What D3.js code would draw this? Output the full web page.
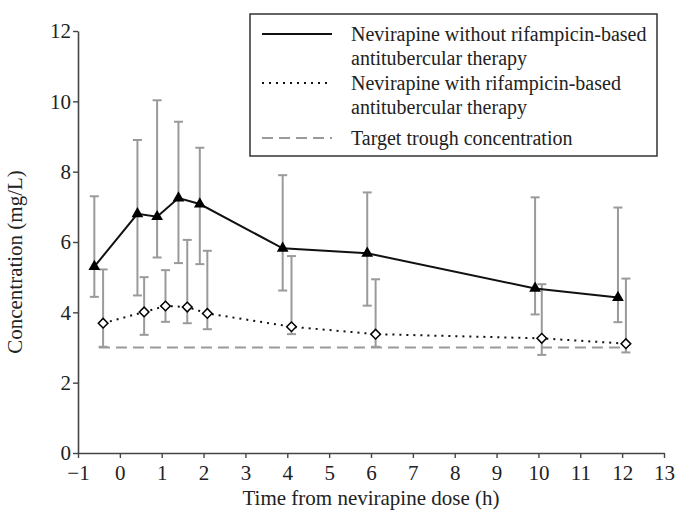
<!DOCTYPE html>
<html>
<head>
<meta charset="utf-8">
<script src="https://cdn.jsdelivr.net/npm/d3@7"></script>
<style>
  body { margin: 0; background: #fff; }
  svg { font-family: "Liberation Serif", "Times New Roman", serif; }
</style>
</head>
<body>
<div id="chart"></div>
<script>
// times (h) for each group
const timesWithout = [-0.61, 0.42, 0.89, 1.40, 1.91, 3.89, 5.91, 9.92, 11.90];
const meanWithout  = [5.30, 6.80, 6.72, 7.25, 7.08, 5.82, 5.68, 4.68, 4.42];
const lowWithout   = [4.44, 4.48, 5.56, 5.40, 5.37, 4.62, 4.19, 3.94, 3.72];
const highWithout  = [7.30, 8.90, 10.03, 9.42, 8.68, 7.90, 7.41, 7.27, 6.98];

const timesWith = [-0.40, 0.58, 1.09, 1.61, 2.09, 4.10, 6.11, 10.08, 12.09];
const meanWith  = [3.69, 4.01, 4.18, 4.15, 3.97, 3.59, 3.38, 3.26, 3.11];
const lowWith   = [3.02, 3.36, 3.73, 3.69, 3.52, 3.38, 3.02, 2.79, 2.86];
const highWith  = [5.22, 5.00, 5.20, 6.06, 5.75, 5.60, 4.94, 4.80, 4.96];

const targetRange = [-0.5, 12.1];
const targetValue = 3;

const xTicks = d3.range(-1, 14);
const yTicks = [0, 2, 4, 6, 8, 10, 12];

const legendLabels = [
  ["Nevirapine without rifampicin-based", "antitubercular therapy"],
  ["Nevirapine with rifampicin-based", "antitubercular therapy"],
  ["Target trough concentration"]
];

const width = 678, height = 513;
const margin = { top: 31, right: 14, bottom: 60, left: 78 };

const svg = d3.select("#chart").append("svg")
  .attr("width", width)
  .attr("height", height);

const x = d3.scaleLinear().domain([-1, 13]).range([margin.left, width - margin.right]);
const y = d3.scaleLinear().domain([0, 12]).range([height - margin.bottom, margin.top]);

// axes
const xAxis = svg.append("g")
  .attr("transform", `translate(0,${y(0)})`)
  .call(d3.axisBottom(x).tickValues(xTicks).tickSize(5).tickSizeOuter(0)
    .tickFormat(d => d < 0 ? "\u2212" + Math.abs(d) : d));
const yAxis = svg.append("g")
  .attr("transform", `translate(${x(-1)},0)`)
  .call(d3.axisLeft(y).tickValues(yTicks).tickSize(5).tickSizeOuter(0));

[xAxis, yAxis].forEach(g => {
  g.select(".domain").attr("stroke", "#444").attr("stroke-width", 1.6);
  g.selectAll(".tick line").attr("stroke", "#444").attr("stroke-width", 1.4);
  g.selectAll(".tick text").attr("fill", "#222")
    .style("font-size", "21px").style("font-family", "Liberation Serif, serif");
});
xAxis.selectAll(".tick text").attr("dy", "0.9em");
yAxis.selectAll(".tick text").attr("x", -7);

svg.append("text")
  .attr("x", (x(-1) + x(13)) / 2)
  .attr("y", 505)
  .attr("text-anchor", "middle")
  .style("font-size", "21px")
  .attr("fill", "#222")
  .text("Time from nevirapine dose (h)");

svg.append("text")
  .attr("transform", `translate(22,${(y(0) + y(12)) / 2 + 20}) rotate(-90)`)
  .attr("text-anchor", "middle")
  .style("font-size", "21px")
  .attr("fill", "#222")
  .text("Concentration (mg/L)");

// error bars
function errorBars(times, low, high) {
  const g = svg.append("g").attr("stroke", "#9a9a9a").attr("stroke-width", 2).attr("fill", "none");
  times.forEach((t, i) => {
    const cx = x(t);
    g.append("line").attr("x1", cx).attr("x2", cx).attr("y1", y(low[i])).attr("y2", y(high[i]));
    g.append("line").attr("x1", cx - 4.5).attr("x2", cx + 4.5).attr("y1", y(low[i])).attr("y2", y(low[i]));
    g.append("line").attr("x1", cx - 4.5).attr("x2", cx + 4.5).attr("y1", y(high[i])).attr("y2", y(high[i]));
  });
}
errorBars(timesWithout, lowWithout, highWithout);
errorBars(timesWith, lowWith, highWith);

// target line
svg.append("line")
  .attr("x1", x(targetRange[0])).attr("x2", x(targetRange[1]))
  .attr("y1", y(targetValue)).attr("y2", y(targetValue))
  .attr("stroke", "#9a9a9a").attr("stroke-width", 2.2)
  .attr("stroke-dasharray", "11,6");

const line = d3.line().x(d => x(d[0])).y(d => y(d[1]));

svg.append("path")
  .attr("d", line(d3.zip(timesWithout, meanWithout)))
  .attr("fill", "none").attr("stroke", "#111").attr("stroke-width", 2);

svg.append("path")
  .attr("d", line(d3.zip(timesWith, meanWith)))
  .attr("fill", "none").attr("stroke", "#111").attr("stroke-width", 2)
  .attr("stroke-dasharray", "2,5");

// markers
svg.append("g").selectAll("path")
  .data(d3.zip(timesWithout, meanWithout))
  .join("path")
  .attr("transform", d => `translate(${x(d[0])},${y(d[1])})`)
  .attr("d", d3.symbol(d3.symbolTriangle, 60))
  .attr("fill", "#000");

svg.append("g").selectAll("path")
  .data(d3.zip(timesWith, meanWith))
  .join("path")
  .attr("transform", d => `translate(${x(d[0])},${y(d[1])}) rotate(45)`)
  .attr("d", "M-3.4,-3.4h6.8v6.8h-6.8z")
  .attr("fill", "#fff").attr("stroke", "#000").attr("stroke-width", 1.5);

// legend
const lg = svg.append("g");
lg.append("rect")
  .attr("x", 250).attr("y", 14).attr("width", 407).attr("height", 142)
  .attr("fill", "#fff").attr("stroke", "#333").attr("stroke-width", 1.5);

const legendStyles = [
  { stroke: "#111", dash: null, width: 2 },
  { stroke: "#111", dash: "2,5", width: 2 },
  { stroke: "#9a9a9a", dash: "11,6", width: 2.2 }
];
const rowTop = [34, 83, 138];
legendLabels.forEach((lines, i) => {
  const st = legendStyles[i];
  lg.append("line")
    .attr("x1", 262).attr("x2", 332)
    .attr("y1", rowTop[i]).attr("y2", rowTop[i])
    .attr("stroke", st.stroke).attr("stroke-width", st.width)
    .attr("stroke-dasharray", st.dash);
  lines.forEach((txt, j) => {
    lg.append("text")
      .attr("x", 351).attr("y", rowTop[i] + j * 24)
      .attr("dy", "0.35em")
      .style("font-size", "20px")
      .attr("fill", "#222")
      .text(txt);
  });
});
</script>
</body>
</html>
